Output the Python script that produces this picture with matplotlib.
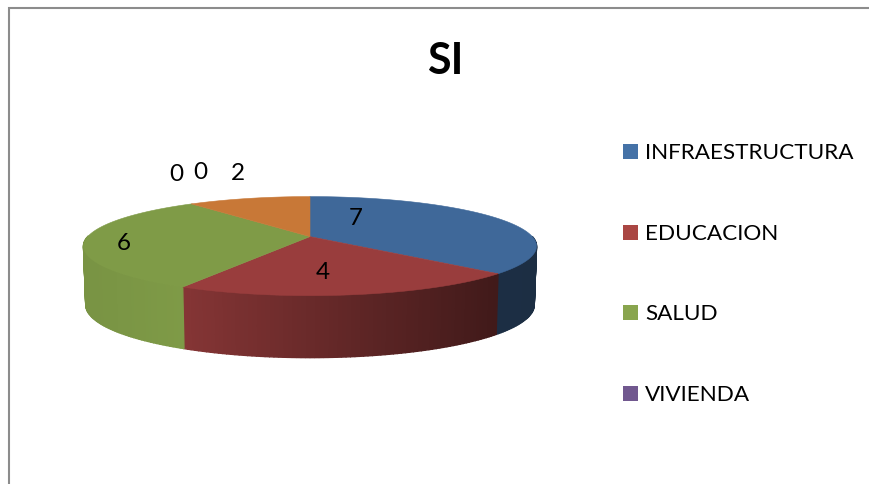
import numpy as np
import matplotlib
matplotlib.use('Agg')
import matplotlib.pyplot as plt
from matplotlib.patches import Polygon, Rectangle

plt.rcParams['font.family'] = ['Lato', 'DejaVu Sans']

title = 'SI'
legend_names = ['INFRAESTRUCTURA', 'EDUCACION', 'SALUD', 'VIVIENDA']
values = [7, 4, 6, 0, 0, 2]

top_colors = ['#3f6899', '#993d3d', '#7f9b47', '#71588f', '#4198af', '#c87837']
legend_colors = ['#4572a7', '#aa4643', '#89a54e', '#71588f']

# side shading of each slice, light factor at its left and right end
side_shade = [(0.46, 0.44), (0.87, 0.42), (0.95, 1.0), (1, 1), (1, 1), (1, 1)]

# where the value labels sit, in picture pixels
label_xy = [(356, 219), (323, 273), (124, 244), (176, 175), (200, 173), (238, 174)]

# pie geometry in picture pixels
cx, cy = 310, 237.6
R = 222.3
k = 47.7
p = 0.192


# perspective view of the unit circle, angle clockwise from the top
def project(theta):
    u = np.sin(theta)
    v = -np.cos(theta)
    return cx + R * u / (1 - p * v), cy + k * v / (1 - p * v), v


def lower_edge(theta):
    x, y, v = project(theta)
    return cx + (x - cx) * 0.99, y + 58 + 4 * v


fig = plt.figure(figsize=(8.7, 4.85), dpi=100)
ax = fig.add_axes([0, 0, 1, 1])
ax.set_xlim(0, 870)
ax.set_ylim(485, 0)
ax.axis('off')

# chart frame, bottom and right run off the picture
ax.plot([9, 9, 870], [485, 8.5, 8.5], color='#8c8c8c', lw=1.5, solid_joinstyle='miter')

ends = np.cumsum(values) / np.sum(values) * 2 * np.pi
starts = np.concatenate([[0], ends[:-1]])

# outer wall first, in thin strips for the gradient
for i, (a, b) in enumerate(zip(starts, ends)):
    if b <= a:
        continue
    thetas = np.linspace(a, b, int((b - a) * 60) + 2)
    xa = project(thetas)[0]
    for t0, t1 in zip(thetas[:-1], thetas[1:]):
        x0, y0, v0 = project(t0)
        x1, y1, v1 = project(t1)
        if v0 < 0 and v1 < 0:
            continue
        pos = (0.5 * (x0 + x1) - xa.min()) / (xa.max() - xa.min())
        f = side_shade[i][0] + (side_shade[i][1] - side_shade[i][0]) * pos
        c = np.clip(np.array(matplotlib.colors.to_rgb(top_colors[i])) * f, 0, 1)
        xb0, yb0 = lower_edge(t0)
        xb1, yb1 = lower_edge(t1)
        ax.add_patch(Polygon([(x0, y0), (x1, y1), (xb1, yb1), (xb0, yb0)],
                             closed=True, fc=c, ec=c, lw=1.0))

# top face
for i, (a, b) in enumerate(zip(starts, ends)):
    if b <= a:
        continue
    thetas = np.linspace(a, b, 200)
    x, y, _ = project(thetas)
    pts = [(cx, cy)] + list(zip(x, y))
    ax.add_patch(Polygon(pts, closed=True, fc=top_colors[i], ec=top_colors[i], lw=0.4))

for val, (lx, ly) in zip(values, label_xy):
    ax.text(lx, ly, str(val), fontsize=17.5, ha='center', va='center', color='black')

ax.text(445, 61, title, fontsize=31, fontweight='bold', ha='center', va='center', color='black')

# legend by hand, the box is narrower than the text list
legend_y = [152.5, 233.5, 313.5, 394.5]
for name, col, ly in zip(legend_names, legend_colors, legend_y):
    ax.add_patch(Rectangle((623, ly - 7.5), 15, 15, fc=col, ec='none'))
    ax.text(645, ly + 0.5, name, fontsize=16.2, ha='left', va='center', color='black')

fig.savefig('out.png', dpi=100, facecolor='white')
